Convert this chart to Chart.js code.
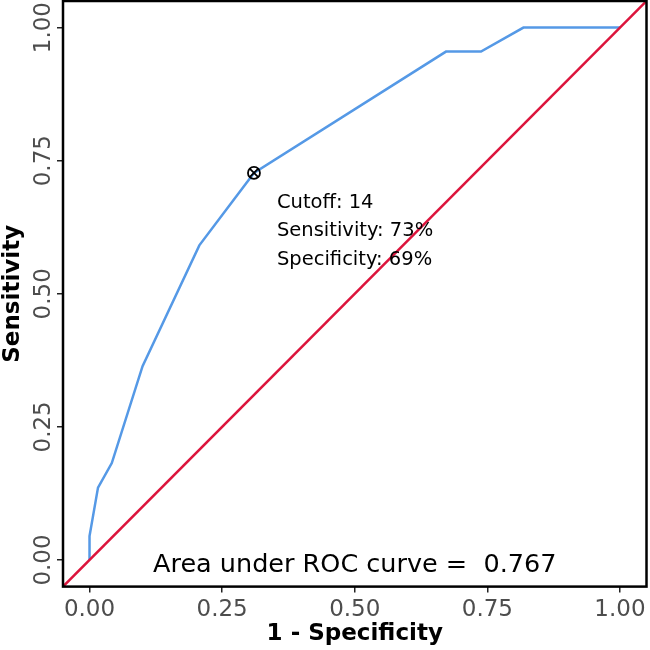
<!DOCTYPE html>
<html lang="en">
<head>
<meta charset="UTF-8">
<title>ROC curve</title>
<script src="https://cdn.jsdelivr.net/npm/chart.js"></script>
<style>
  * { margin: 0; padding: 0; box-sizing: border-box; }
  body { background: #fff; width: 650px; height: 650px; overflow: hidden; }
  #wrap { width: 650px; height: 650px; }
</style>
</head>
<body>
<div id="wrap"><canvas id="roc"></canvas></div>
<script>
// ROC curve points
const fpr = [0, 0, 0.016, 0.042, 0.100, 0.207, 0.310, 0.672, 0.738, 0.818, 1.0];
const tpr = [0, 0.045, 0.136, 0.182, 0.364, 0.591, 0.727, 0.955, 0.955, 1.0, 1.0];
// chance line, spans the whole panel
const refLine = [-0.05, 1.05];
const tickValues = [0, 0.25, 0.5, 0.75, 1];
const tickLabels = ["0.00", "0.25", "0.50", "0.75", "1.00"];
const cutoffPoint = [0.310, 0.727];
const cutoffLines = ["Cutoff: 14", "Sensitivity: 73%", "Specificity: 69%"];
const aucText = "Area under ROC curve =  0.767";

const FONT = '"DejaVu Sans", sans-serif';

const rocDecor = {
    id: 'rocDecor',
    afterDraw(chart) {
        const { ctx, chartArea: a, scales: { x, y } } = chart;
        ctx.save();

        // panel border
        ctx.strokeStyle = '#000';
        ctx.lineWidth = 2.5;
        ctx.strokeRect(a.left, a.top, a.right - a.left, a.bottom - a.top);

        // y tick labels, rotated like ggplot's
        ctx.fillStyle = '#4d4d4d';
        ctx.font = '23px ' + FONT;
        ctx.textAlign = 'center';
        ctx.textBaseline = 'alphabetic';
        tickValues.forEach((v, i) => {
            ctx.save();
            ctx.translate(a.left - 13, y.getPixelForValue(v));
            ctx.rotate(-Math.PI / 2);
            ctx.fillText(tickLabels[i], 0, 0);
            ctx.restore();
        });

        // y axis title
        ctx.fillStyle = '#000';
        ctx.font = 'bold 23px ' + FONT;
        ctx.save();
        ctx.translate(19, (a.top + a.bottom) / 2);
        ctx.rotate(-Math.PI / 2);
        ctx.fillText('Sensitivity', 0, 0);
        ctx.restore();

        // cutoff label
        ctx.font = '19.5px ' + FONT;
        ctx.textAlign = 'left';
        const lx = x.getPixelForValue(cutoffPoint[0]) + 23;
        const ly = y.getPixelForValue(cutoffPoint[1]) + 35;
        cutoffLines.forEach((t, i) => ctx.fillText(t, lx, ly + i * 28.5));

        // AUC text
        ctx.font = '25.5px ' + FONT;
        ctx.textAlign = 'center';
        ctx.fillText(aucText, x.getPixelForValue(0.5), y.getPixelForValue(0) + 12);

        ctx.restore();
    }
};

const setTicks = scale => { scale.ticks = tickValues.map(v => ({ value: v })); };

new Chart(document.getElementById('roc'), {
    type: 'scatter',
    data: {
        datasets: [
            {
                data: [{ x: cutoffPoint[0], y: cutoffPoint[1] }],
                pointStyle: 'circle', pointRadius: 6, borderColor: '#000',
                backgroundColor: 'transparent', borderWidth: 1.8, order: 0
            },
            {
                data: [{ x: cutoffPoint[0], y: cutoffPoint[1] }],
                pointStyle: 'crossRot', pointRadius: 6, borderColor: '#000',
                borderWidth: 1.8, order: 0
            },
            {
                data: refLine.map(v => ({ x: v, y: v })),
                showLine: true, borderColor: '#dc143c', borderWidth: 2.5,
                pointRadius: 0, order: 1
            },
            {
                data: fpr.map((v, i) => ({ x: v, y: tpr[i] })),
                showLine: true, borderColor: '#5599e6', borderWidth: 2.5,
                pointRadius: 0, tension: 0, order: 2
            }
        ]
    },
    options: {
        responsive: true,
        maintainAspectRatio: false,
        animation: false,
        layout: { autoPadding: false, padding: { top: 1, right: 3.5, left: 0, bottom: 0 } },
        plugins: { legend: { display: false }, tooltip: { enabled: false } },
        scales: {
            x: {
                type: 'linear', min: -0.05, max: 1.05,
                afterBuildTicks: setTicks,
                afterFit: s => { s.height = 63.4; s.paddingLeft = 0; s.paddingRight = 0; },
                grid: { display: true, drawOnChartArea: false, drawTicks: true, tickLength: 6, color: '#222', lineWidth: 1.5 },
                border: { display: false },
                ticks: {
                    color: '#4d4d4d', padding: 4, maxRotation: 0,
                    font: { family: FONT, size: 23 },
                    callback: (v, i) => tickLabels[i]
                },
                title: {
                    display: true, text: '1 - Specificity', color: '#000',
                    font: { family: FONT, size: 23, weight: 'bold' },
                    padding: { top: 0, bottom: 2 }
                }
            },
            y: {
                type: 'linear', min: -0.05, max: 1.05,
                afterBuildTicks: setTicks,
                afterFit: s => { s.width = 63; s.paddingTop = 0; s.paddingBottom = 0; },
                grid: { display: true, drawOnChartArea: false, drawTicks: true, tickLength: 6, color: '#222', lineWidth: 1.5 },
                border: { display: false },
                ticks: { display: false }
            }
        }
    },
    plugins: [rocDecor]
});
</script>
</body>
</html>
